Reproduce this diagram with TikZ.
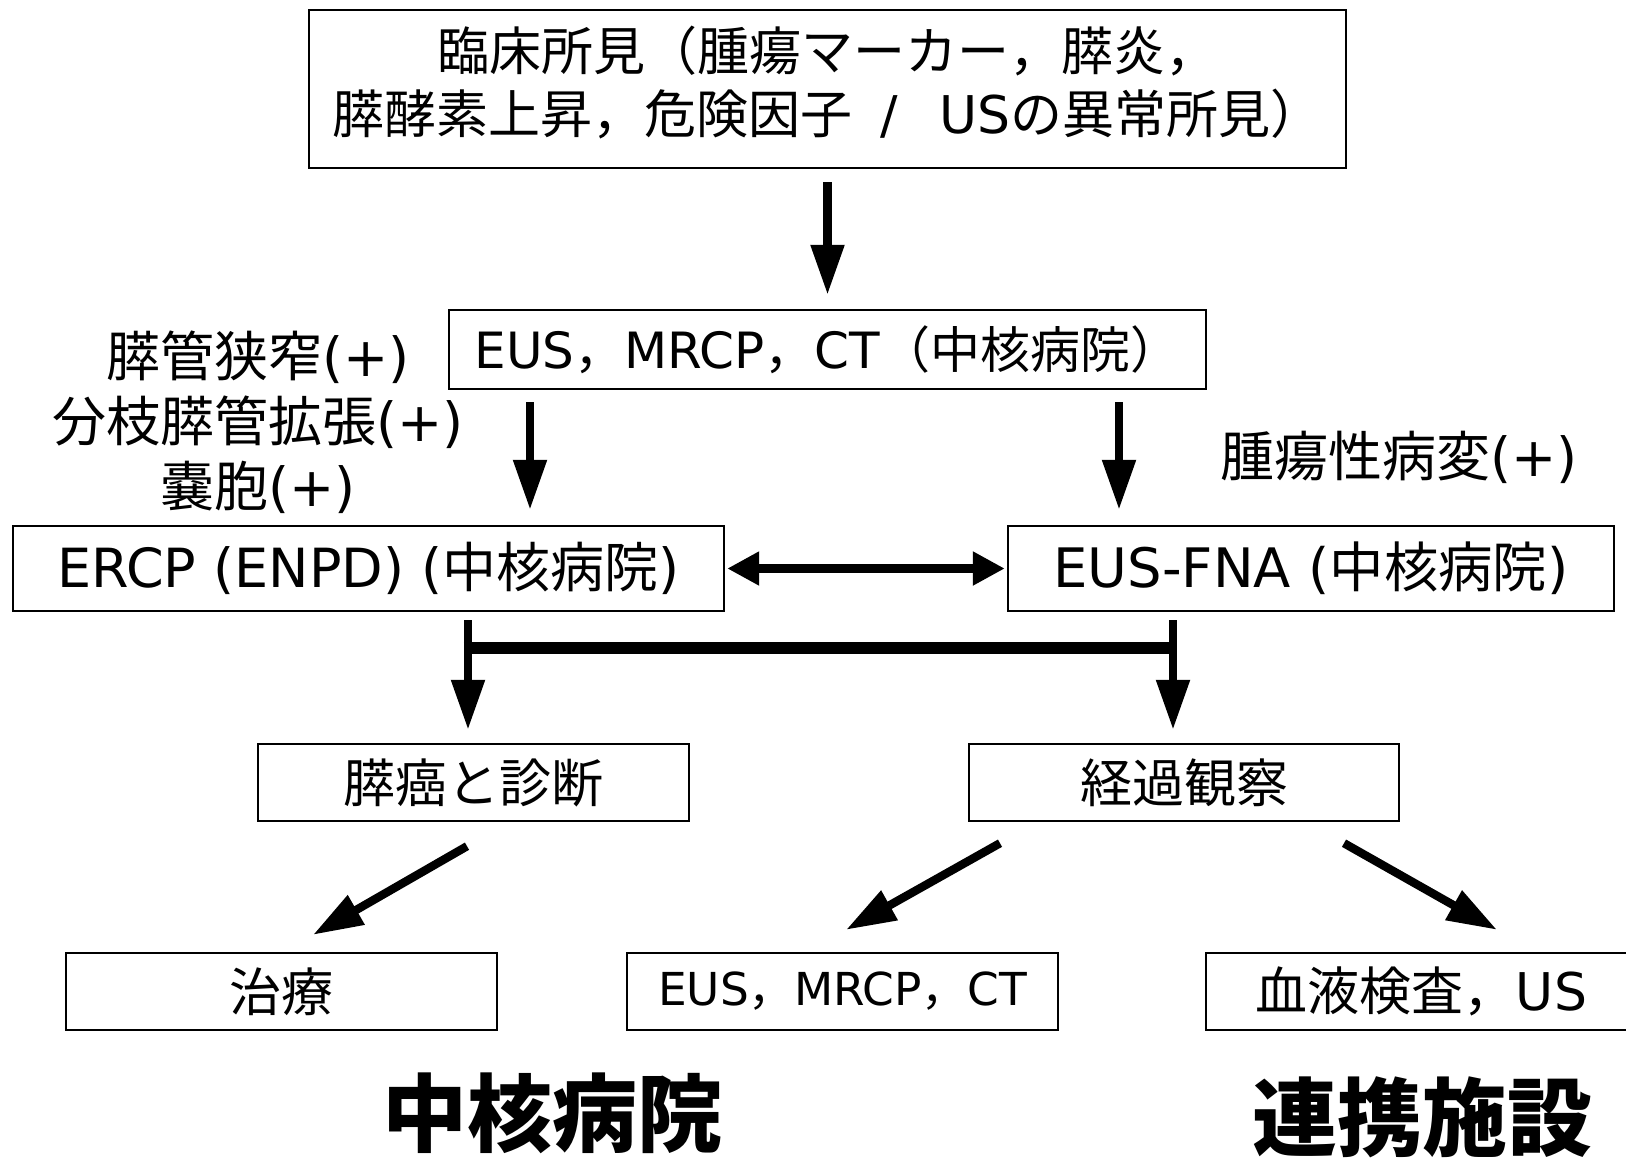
\documentclass[tikz,border=0pt]{standalone}
\usepackage{fontspec}
\setmainfont{DejaVu Sans}
\newfontfamily\jp{Noto Sans CJK JP}
\usetikzlibrary{arrows.meta,calc}
\begin{document}
\begin{tikzpicture}[x=0.5pt,y=-0.5pt,
  box/.style={draw,line width=1.2pt,inner sep=0pt,align=center,font=\fontsize{26}{31}\selectfont},
  lbl/.style={inner sep=0pt,align=center,font=\fontsize{27}{32.5}\selectfont},
  big/.style={inner sep=0pt,font=\fontsize{42.5}{46}\selectfont\jp\bfseries},
  shaft/.style={line width=4.2pt},
  arr/.style={line width=4.2pt,-{Triangle[length=25pt,width=16pt]}},
  darr/.style={line width=4.2pt,{Triangle[length=16pt,width=16pt]}-{Triangle[length=16pt,width=16pt]}}]
\fill[white] (0,0) rectangle (1626,1157);
\useasboundingbox (0,0) rectangle (1626,1157);
% boxes
\node[box,minimum width=518.5pt,minimum height=79pt] (top) at (827.5,89)
  {\raisebox{2.5pt}{\begin{tabular}{@{}c@{}}{\jp 臨床所見（腫瘍マーカー，膵炎，}\\{\jp 膵酵素上昇，危険因子}\hspace{0.55em}/\hspace{0.8em}US{\jp の異常所見）}\end{tabular}}};
\node[box,minimum width=378.5pt,minimum height=39.5pt,font=\fontsize{25}{30}\selectfont] (eus) at (827.5,349.5)
  {EUS{\jp ，}MRCP{\jp ，}CT{\jp （中核病院）}};
\node[box,minimum width=355.5pt,minimum height=42.5pt,font=\fontsize{27}{32}\selectfont] (ercp) at (368.5,568.5)
  {ERCP (ENPD) ({\jp 中核病院})};
\node[box,minimum width=303pt,minimum height=42.5pt,font=\fontsize{27.2}{32}\selectfont] (fna) at (1311,568.5)
  {EUS-FNA ({\jp 中核病院})};
\node[box,minimum width=215.5pt,minimum height=38.5pt] (dx) at (473.5,782.5)
  {{\jp 膵癌と診断}};
\node[box,minimum width=215pt,minimum height=38.5pt] (obs) at (1184,782.5)
  {{\jp 経過観察}};
\node[box,minimum width=215.5pt,minimum height=38.5pt] (tx) at (281.5,991.5)
  {{\jp 治療}};
\node[box,minimum width=215.5pt,minimum height=38.5pt,font=\fontsize{22.7}{27}\selectfont] (eus2) at (842.5,991.5)
  {EUS{\jp ，}MRCP{\jp ，}CT};
\node[box,minimum width=215.5pt,minimum height=38.5pt] (blood) at (1421.5,991.5)
  {{\jp 血液検査，}US};
% labels
\node[lbl] (lblL) at (258,422)
  {{\jp 膵管狭窄}(+)\\{\jp 分枝膵管拡張}(+)\\{\jp 嚢胞}(+)};
\node[lbl] (lblR) at (1399,457) {{\jp 腫瘍性病変}(+)};
\node[big] (hosp) at (552,1113) {中核病院};
\node[big] (coop) at (1422,1117) {連携施設};
% connectors
\coordinate (cL) at (530,0);
\coordinate (cR) at (1119,0);
\coordinate (dL) at (468,0);
\coordinate (dR) at (1173,0);
\coordinate (bar) at (0,648);
\draw[arr,shorten <=6.5pt,shorten >=7pt] (top.south) -- (eus.north);
\draw[arr,shorten <=6pt,shorten >=7.5pt] (eus.south -| cL) -- (ercp.north -| cL);
\draw[arr,shorten <=6pt,shorten >=7.5pt] (eus.south -| cR) -- (fna.north -| cR);
\draw[darr,shorten <=1pt,shorten >=1pt] (ercp.east) -- (fna.west);
\draw[shaft] ([yshift=-4pt]ercp.south -| dL) -- (bar -| dL);
\draw[shaft] ([yshift=-4pt]fna.south -| dR) -- (bar -| dR);
\draw[line width=6pt] ([xshift=-2.1pt]bar -| dL) -- ([xshift=2.1pt]bar -| dR);
\draw[arr,shorten >=6.5pt] (bar -| dL) -- (dx.north -| dL);
\draw[arr,shorten >=6.5pt] (bar -| dR) -- (obs.north -| dR);
\draw[arr] ($(dx.south)+(-6.5,24)$) -- ($(tx.north)+(31.5,-17)$);
\draw[arr] ($(obs.south)+(-184,21)$) -- ($(eus2.north)+(3.5,-22)$);
\draw[arr] ($(obs.south)+(160,21)$) -- ($(blood.north)+(75.5,-22)$);
\end{tikzpicture}
\end{document}
